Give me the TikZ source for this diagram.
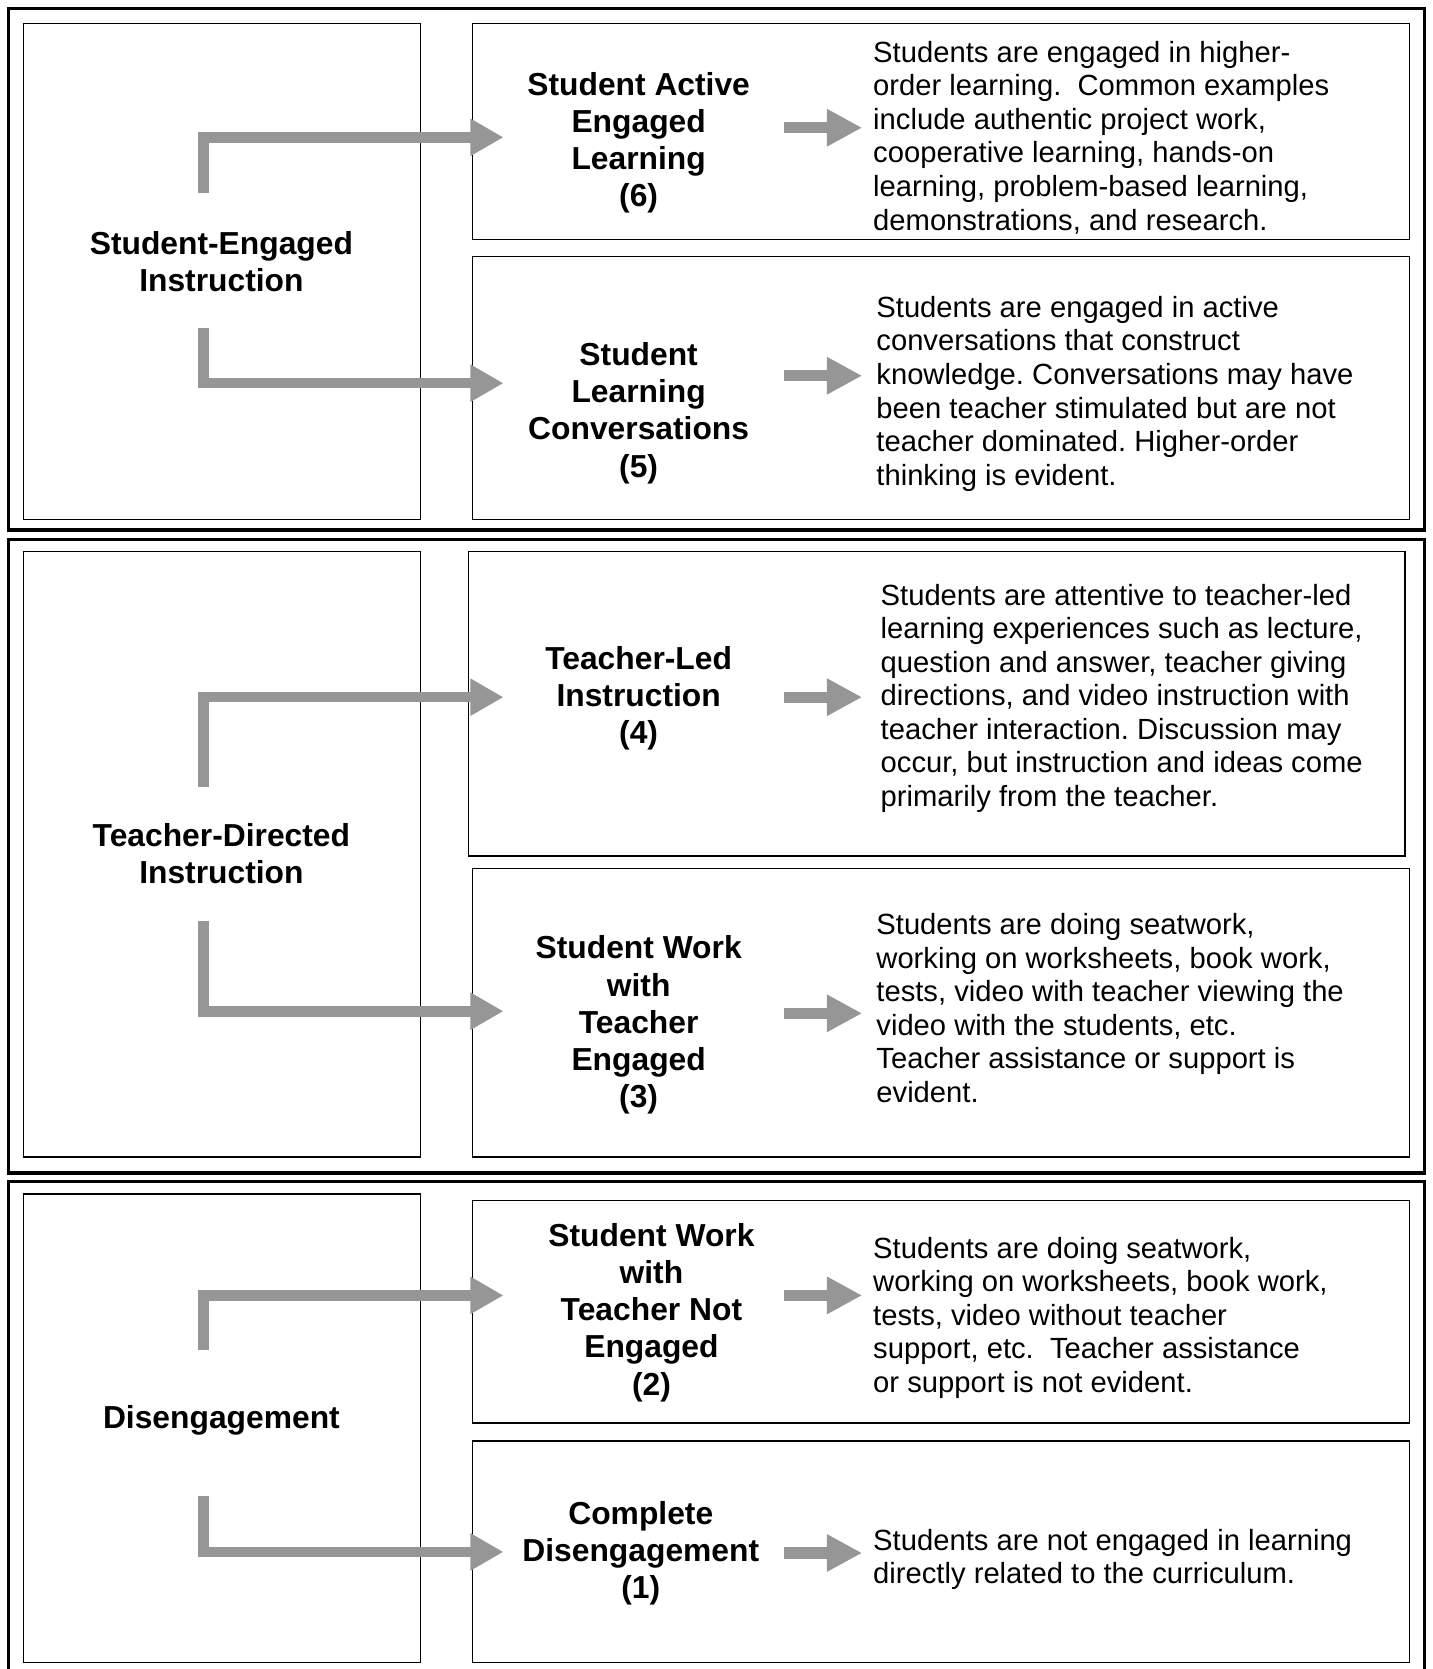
\documentclass[tikz,border=0pt]{standalone}
\usepackage{fontspec}
\setmainfont{Liberation Sans}
\usepackage{tikz}
\usetikzlibrary{arrows.meta}
\definecolor{arrowgray}{HTML}{969696}
\newcommand{\levelfont}{\fontsize{15.9}{18.6}\selectfont\bfseries}
\newcommand{\notefont}{\fontsize{14.6}{16.8}\selectfont\frenchspacing}
\tikzset{frame/.style={draw=black,line width=1.6pt},panel/.style={draw=black,line width=.8pt},bigarrow/.style={draw=arrowgray,line width=5.3pt,line join=miter,-{Triangle[length=16.5pt,width=17.5pt]}},smallarrow/.style={draw=arrowgray,line width=5.6pt,-{Triangle[length=17.6pt,width=17.5pt]}},levellabel/.style={font=\levelfont,align=center,inner sep=0pt},notetext/.style={font=\notefont,align=left,anchor=west,inner sep=0pt}}

\begin{document}
\begin{tikzpicture}[x=0.5323pt,y=-0.5323pt]
\useasboundingbox (0,0) rectangle (1346,1568);
\draw[frame] (8,8) rectangle (1338,498);
\draw[frame] (8,507) rectangle (1338,1102);
\draw[frame] (8,1590) |- (1338,1110) -- (1338,1590);
\draw[panel] (22,22) rectangle (395,488);
\draw[panel] (444,22) rectangle (1324,225);
\draw[panel] (444,241) rectangle (1324,488);
\draw[panel] (22,518) rectangle (395,1087);
\draw[panel] (440,518) rectangle (1320,804);
\draw[panel] (444,816) rectangle (1324,1087);
\draw[panel] (22,1122) rectangle (395,1562);
\draw[panel] (444,1128) rectangle (1324,1337);
\draw[panel] (444,1354) rectangle (1324,1562);
\node[levellabel] (sei) at (208,246) {Student-Engaged\\Instruction};
\node[levellabel] (tdi) at (208,802) {Teacher-Directed\\Instruction};
\node[levellabel] (dis) at (208,1334) {Disengagement};
\node[levellabel] (sael) at (600,134) {Student Active\\Engaged\\Learning\\(6)};
\node[levellabel] (slc) at (600,388) {Student\\Learning\\Conversations\\(5)};
\node[levellabel] (tli) at (600,656) {Teacher-Led\\Instruction\\(4)};
\node[levellabel] (swte) at (600,963) {Student Work\\with\\Teacher\\Engaged\\(3)};
\node[levellabel] (swtne) at (612,1233) {Student Work\\with\\Teacher Not\\Engaged\\(2)};
\node[levellabel] (cd) at (602,1459) {Complete\\Disengagement\\(1)};
\node[notetext] (sael-note) at (820,129) {Students are engaged in higher-\\order learning.\ \ Common examples\\include authentic project work,\\cooperative learning, hands-on\\learning, problem-based learning,\\demonstrations, and research.};
\node[notetext] (slc-note) at (823,370) {Students are engaged in active\\conversations that construct\\knowledge. Conversations may have\\been teacher stimulated but are not\\teacher dominated. Higher-order\\thinking is evident.};
\node[notetext] (tli-note) at (827,656) {Students are attentive to teacher-led\\learning experiences such as lecture,\\question and answer, teacher giving\\directions, and video instruction with\\teacher interaction. Discussion may\\occur, but instruction and ideas come\\primarily from the teacher.};
\node[notetext] (swte-note) at (823,947) {Students are doing seatwork,\\working on worksheets, book work,\\tests, video with teacher viewing the\\video with the students, etc.\\Teacher assistance or support is\\evident.};
\node[notetext] (swtne-note) at (820,1238) {Students are doing seatwork,\\working on worksheets, book work,\\tests, video without teacher\\support, etc.\ \ Teacher assistance\\or support is not evident.};
\node[notetext] (cd-note) at (820,1465) {Students are not engaged in learning\\directly related to the curriculum.};
\coordinate (sei-up) at (191,181);
\coordinate (sei-down) at (191,308);
\coordinate (tdi-up) at (191,739);
\coordinate (tdi-down) at (191,865);
\coordinate (dis-up) at (191,1268);
\coordinate (dis-down) at (191,1405);
\coordinate (sael-tip) at (473,129);
\coordinate (slc-tip) at (473,360);
\coordinate (tli-tip) at (473,655);
\coordinate (swte-tip) at (473,950);
\coordinate (swtne-tip) at (473,1217);
\coordinate (cd-tip) at (473,1458);
\draw[bigarrow] (sei-up) |- (sael-tip);
\draw[bigarrow] (sei-down) |- (slc-tip);
\draw[bigarrow] (tdi-up) |- (tli-tip);
\draw[bigarrow] (tdi-down) |- (swte-tip);
\draw[bigarrow] (dis-up) |- (swtne-tip);
\draw[bigarrow] (dis-down) |- (cd-tip);
\foreach \n/\y in {sael/120,slc/353,tli/655,swte/952,swtne/1217,cd/1459}{
\coordinate (\n-from) at (737,\y);
\coordinate (\n-to) at (810,\y);
\draw[smallarrow] (\n-from) -- (\n-to);
}
\end{tikzpicture}
\end{document}
